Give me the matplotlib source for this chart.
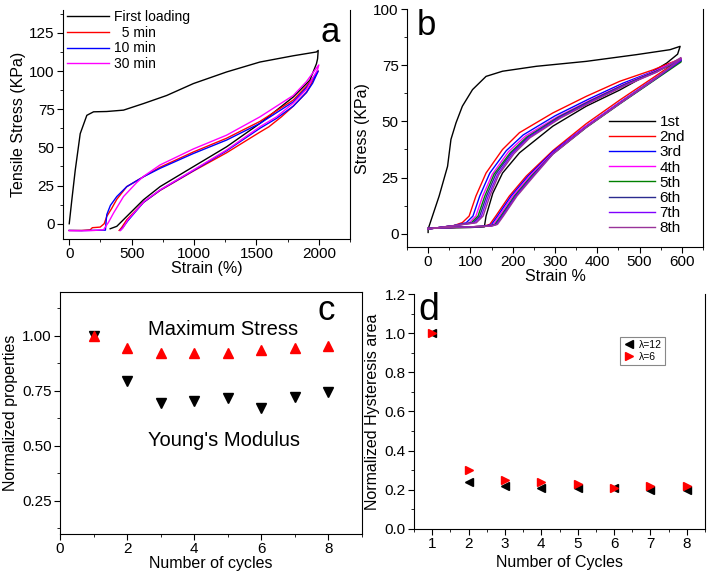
import numpy as np
import matplotlib
matplotlib.use("Agg")
import matplotlib.pyplot as plt
from matplotlib.ticker import MultipleLocator, FormatStrFormatter

plt.rcParams['font.family'] = ['Liberation Sans', 'DejaVu Sans']
plt.rcParams['font.size'] = 10

# ---- panel a: tensile loops after recovery time ----
a_first_x = [0, 20, 48, 88, 141, 195, 300, 435, 595, 781, 995, 1261, 1528, 1795, 1981, 1995,
             1990, 1981, 1928, 1795, 1528, 1261, 995, 728, 595, 488, 381, 328]
a_first_y = [0, 15, 35, 59, 71, 73.3, 73.5, 74.4, 78.7, 84, 91.8, 99.4, 105.9, 110, 112.5, 113.5,
             108, 104.8, 94, 83, 65.7, 50.4, 37.4, 24.3, 15.7, 7, -1.7, -3.3]

a_5min_x = [0, 100, 168, 185, 248, 280, 301, 340, 381, 461, 600, 728, 995, 1261, 1528, 1795, 1900, 1995,
            1995, 1901, 1795, 1700, 1600, 1528, 1261, 995, 728, 595, 461, 420, 400]
a_5min_y = [-4.4, -4.4, -4, -2.6, -2.2, 0, 4.8, 10, 16, 24.3, 31, 37, 47, 56, 67, 81, 90, 100,
            100, 86, 77, 70, 63.5, 60, 46.5, 34.5, 21.8, 14, 2.6, -2.5, -4.4]

a_10min_x = [0, 100, 200, 290, 296, 301, 330, 381, 461, 600, 728, 995, 1261, 1528, 1795, 1900, 1995,
             1995, 1950, 1901, 1795, 1661, 1528, 1261, 995, 728, 595, 470, 430, 410]
a_10min_y = [-4.4, -4.5, -4.3, -4.2, 2, 6, 12, 17.8, 24.3, 31, 36.3, 46, 54.8, 65.7, 79.8, 89, 100,
             100, 92, 86, 77, 69, 62.5, 47.8, 34.8, 22, 14, 2, -2.5, -4.3]

a_30min_x = [0, 100, 200, 275, 315, 355, 435, 541, 595, 728, 995, 1261, 1528, 1795, 1900, 1981, 2000,
             1990, 1901, 1795, 1661, 1528, 1261, 995, 728, 600, 470, 430, 410]
a_30min_y = [-4.5, -4.6, -4.4, -3.9, 1, 7, 17.8, 27, 31, 38.5, 49, 58, 70, 84, 93, 102, 104,
             101, 88, 79, 70, 63.5, 48.3, 35.2, 22.2, 14.6, 2.6, -2.8, -4.4]

a_labels = ['First loading', '  5 min', '10 min', '30 min']
a_colors = ['black', '#ff0000', '#0000ff', '#ff00ff']

# ---- panel b: 8 successive cycles ----
b_x = {
    '1st': [0, 0, 26, 46, 54, 66, 81, 105, 137, 176, 256, 374, 493, 572, 596,
            590, 564, 520, 453, 374, 295, 216, 176, 153, 137, 133, 100, 50, 0],
    '2nd': [0, 30, 60, 81, 97, 113, 137, 176, 216, 295, 374, 453, 532, 598,
            598, 532, 453, 374, 295, 232, 192, 160, 146, 132, 100, 50, 0],
    '3rd': [0, 30, 60, 90, 106, 122, 146, 185, 225, 300, 380, 460, 535, 598,
            598, 532, 453, 374, 295, 236, 196, 164, 150, 136, 100, 50, 0],
    '4th': [0, 30, 60, 97, 113, 129, 152, 190, 230, 305, 383, 462, 537, 598,
            598, 532, 453, 374, 295, 240, 200, 168, 154, 140, 100, 50, 0],
    '5th': [0, 30, 60, 102, 118, 134, 156, 194, 233, 307, 385, 463, 538, 598,
            598, 532, 453, 374, 295, 244, 204, 172, 158, 144, 100, 50, 0],
    '6th': [0, 30, 60, 106, 122, 138, 160, 197, 236, 309, 386, 464, 539, 598,
            598, 532, 453, 374, 295, 246, 206, 174, 160, 146, 100, 50, 0],
    '7th': [0, 30, 60, 110, 126, 142, 164, 200, 238, 311, 388, 465, 540, 598,
            598, 532, 453, 374, 295, 248, 208, 176, 162, 148, 100, 50, 0],
    '8th': [0, 30, 60, 114, 130, 146, 167, 203, 240, 313, 390, 466, 541, 598,
            598, 532, 453, 374, 295, 250, 210, 178, 164, 150, 100, 50, 0],
}
b_y = {
    '1st': [0.5, 2, 16.7, 30, 42, 49.4, 56.8, 64.2, 70.1, 72.4, 74.6, 76.8, 79.8, 82, 83.5,
            80, 76, 71, 64, 56.8, 47.9, 36, 27, 18, 7.8, 3, 2.7, 2.5, 2.3],
    '2nd': [2, 2.8, 3.5, 4.9, 7.8, 16.7, 27, 37.5, 45, 53.8, 61.2, 67.9, 73, 78,
            78, 69.5, 59.5, 49, 37, 25.6, 16.7, 7.8, 4.1, 3.3, 3, 2.7, 2.3],
    '3rd': [2, 2.8, 3.5, 4.8, 7.8, 16.7, 27, 37, 44, 52.5, 60, 67, 72.5, 77.5,
            77, 68.7, 58.5, 48, 36.5, 25.6, 16.7, 7.8, 4.1, 3.3, 3, 2.7, 2.3],
    '4th': [2, 2.8, 3.5, 4.8, 7.8, 16.7, 26.5, 36.5, 43.5, 52, 59.5, 66.5, 72.5, 78,
            77.5, 68.5, 58.3, 47.9, 36, 25.6, 16.7, 7.8, 4.1, 3.3, 3, 2.7, 2.3],
    '5th': [2, 2.8, 3.5, 4.8, 7.8, 16.7, 26.5, 36, 43, 51.8, 59.3, 66.3, 72.2, 77,
            76.5, 68, 57.8, 47.3, 35.5, 25.6, 16.7, 7.8, 4.1, 3.3, 3, 2.7, 2.3],
    '6th': [2, 2.8, 3.5, 4.8, 7.8, 16.7, 26.5, 36, 43, 51.8, 59.3, 66.3, 72.2, 77.5,
            77, 68.2, 58, 47.5, 35.7, 25.6, 16.7, 7.8, 4.1, 3.3, 3, 2.7, 2.3],
    '7th': [2, 2.8, 3.5, 4.8, 7.8, 16.7, 26.3, 35.8, 42.8, 51.6, 59.1, 66.1, 72, 78,
            77.5, 68.3, 58, 47.5, 35.6, 25.6, 16.7, 7.8, 4.1, 3.3, 3, 2.7, 2.3],
    '8th': [2, 2.8, 3.5, 4.8, 7.8, 16.7, 26.2, 35.6, 42.6, 51.5, 59, 66, 72, 78.5,
            78, 68.4, 58, 47.4, 35.4, 25.6, 16.7, 7.8, 4.1, 3.3, 3, 2.7, 2.3],
}
b_colors = ['black', '#ff0000', '#0000ff', '#ff00ff', '#008000', '#2b2b8f', '#8000ff', '#993399']

# ---- panel c: normalized properties ----
c_cycles = [1, 2, 3, 4, 5, 6, 7, 8]
c_max_stress = [1.00, 0.944, 0.921, 0.921, 0.921, 0.936, 0.944, 0.955]
c_modulus = [1.00, 0.795, 0.694, 0.706, 0.717, 0.674, 0.724, 0.744]

# ---- panel d: normalized hysteresis area ----
d_cycles = [1, 2, 3, 4, 5, 6, 7, 8]
d_lam12 = [1.00, 0.24, 0.22, 0.21, 0.21, 0.21, 0.20, 0.20]
d_lam6 = [1.00, 0.30, 0.25, 0.24, 0.23, 0.21, 0.22, 0.22]

TICK_FS = 11
LABEL_FS = 11.5


def style_axes(ax, top=False):
    ax.spines['top'].set_visible(top)
    ax.tick_params(which='both', direction='out', top=False, right=False, labelsize=TICK_FS)
    ax.tick_params(which='major', length=4, pad=2)
    ax.tick_params(which='minor', length=2.5)


fig = plt.figure(figsize=(7.11, 5.73), dpi=100)

# panel a
ax = fig.add_axes([0.0886, 0.5829, 0.4037, 0.3997])
for (xs, ys), lab, col in zip([(a_first_x, a_first_y), (a_5min_x, a_5min_y),
                               (a_10min_x, a_10min_y), (a_30min_x, a_30min_y)],
                              a_labels, a_colors):
    ax.plot(xs, ys, color=col, lw=1, label=lab)
ax.set_xlim(-50, 2250)
ax.set_ylim(-10, 140)
ax.xaxis.set_major_locator(MultipleLocator(500))
ax.xaxis.set_minor_locator(MultipleLocator(250))
ax.yaxis.set_minor_locator(MultipleLocator(12.5))
ax.set_yticks([0, 25, 50, 75, 100, 125])
ax.set_xlabel('Strain (%)', fontsize=LABEL_FS, labelpad=0)
ax.set_ylabel('Tensile Stress (KPa)', fontsize=LABEL_FS, labelpad=2)
style_axes(ax)
ax.legend(loc='upper left', frameon=False, fontsize=10, handlelength=3, handletextpad=0.4,
          labelspacing=0.12, borderaxespad=0.1, bbox_to_anchor=(-0.01, 1.03))
ax.text(0.93, 0.9, 'a', transform=ax.transAxes, fontsize=25, ha='center', va='center')

# panel b
ax = fig.add_axes([0.5724, 0.5689, 0.4163, 0.4148])
for (lab, col) in zip(b_x.keys(), b_colors):
    ax.plot(b_x[lab], b_y[lab], color=col, lw=1, label=lab)
ax.set_xlim(-50, 650)
ax.set_ylim(-6, 100)
ax.xaxis.set_major_locator(MultipleLocator(100))
ax.xaxis.set_minor_locator(MultipleLocator(50))
ax.yaxis.set_major_locator(MultipleLocator(25))
ax.yaxis.set_minor_locator(MultipleLocator(12.5))
ax.set_xlabel('Strain %', fontsize=LABEL_FS, labelpad=0)
ax.set_ylabel('Stress (KPa)', fontsize=LABEL_FS, labelpad=2)
style_axes(ax)
ax.legend(loc='lower right', frameon=False, fontsize=11, handlelength=3, handletextpad=0.3,
          labelspacing=0.08, borderaxespad=0.2, bbox_to_anchor=(0.97, 0.01))
ax.text(0.065, 0.93, 'b', transform=ax.transAxes, fontsize=25, ha='center', va='center')

# panel c
ax = fig.add_axes([0.0844, 0.0681, 0.4248, 0.4223])
ax.plot(c_cycles, c_max_stress, ls='none', marker='^', ms=7.5, color='#ff0000', zorder=3)
ax.plot(c_cycles, c_modulus, ls='none', marker='v', ms=7.5, color='black', zorder=2)
ax.set_xlim(0, 9)
ax.set_ylim(0.1, 1.2)
ax.xaxis.set_major_locator(MultipleLocator(2))
ax.xaxis.set_minor_locator(MultipleLocator(1))
ax.set_yticks([0.25, 0.5, 0.75, 1.0])
ax.yaxis.set_minor_locator(MultipleLocator(0.125))
ax.yaxis.set_major_formatter(FormatStrFormatter('%.2f'))
ax.set_xlabel('Number of cycles', fontsize=LABEL_FS, labelpad=0)
ax.set_ylabel('Normalized properties', fontsize=LABEL_FS, labelpad=3)
style_axes(ax, top=True)
ax.text(4.87, 1.03, 'Maximum Stress', fontsize=14.5, ha='center', va='center')
ax.text(4.9, 0.525, "Young's Modulus", fontsize=14.5, ha='center', va='center')
ax.text(0.88, 0.925, 'c', transform=ax.transAxes, fontsize=25, ha='center', va='center')

# panel d
ax = fig.add_axes([0.5823, 0.0768, 0.4093, 0.4101])
ax.plot(d_cycles, d_lam12, ls='none', marker='<', ms=6, color='black', label='λ=12')
ax.plot(d_cycles, d_lam6, ls='none', marker='>', ms=6, color='#ff0000', label='λ=6')
ax.set_xlim(0.5, 8.5)
ax.set_ylim(0, 1.2)
ax.xaxis.set_major_locator(MultipleLocator(1))
ax.xaxis.set_minor_locator(MultipleLocator(0.5))
ax.yaxis.set_major_locator(MultipleLocator(0.2))
ax.yaxis.set_minor_locator(MultipleLocator(0.1))
ax.yaxis.set_major_formatter(FormatStrFormatter('%.1f'))
ax.set_xlabel('Number of Cycles', fontsize=LABEL_FS, labelpad=3)
ax.set_ylabel('Normalized Hysteresis area', fontsize=LABEL_FS, labelpad=3)
style_axes(ax)
leg = ax.legend(loc='upper right', bbox_to_anchor=(0.88, 0.84), fontsize=7.5, handletextpad=0.3,
                handlelength=1.2, borderpad=0.3, labelspacing=0.2, fancybox=False, framealpha=1)
leg.get_frame().set_edgecolor('#888888')
leg.get_frame().set_linewidth(0.8)
ax.text(0.05, 0.93, 'd', transform=ax.transAxes, fontsize=27, ha='center', va='center')

fig.savefig('out.png', dpi=100)
